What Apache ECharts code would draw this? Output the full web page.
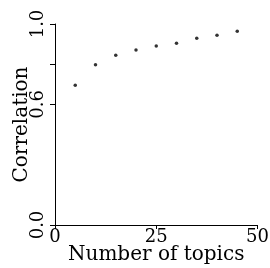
<!DOCTYPE html>
<html><head><meta charset="utf-8">
<script src="https://cdn.jsdelivr.net/npm/echarts@6/dist/echarts.min.js"></script>
<style>html,body{margin:0;padding:0;background:#fff}#c{width:270px;height:268px}</style>
</head><body><div id="c"></div>
<script>
const topics = [5, 10, 15, 20, 25, 30, 35, 40, 45];
const correlation = [0.695, 0.797, 0.844, 0.871, 0.891, 0.904, 0.929, 0.944, 0.964];
const xTicks = [0, 25, 50];
const yTicks = [0, 0.6, 0.8, 1.0];
const yLabels = [0, 0.6, 1.0];
const xName = 'Number of topics';
const yName = 'Correlation';

const font = 'DejaVu Serif';
const chart = echarts.init(document.getElementById('c'), null, {renderer: 'canvas'});
chart.setOption({
  animation: false,
  backgroundColor: '#fff',
  grid: {left: 55, right: 12.5, top: 24, bottom: 43, containLabel: false, outerBoundsMode: 'none'},
  xAxis: {
    type: 'value', min: 0, max: 50,
    name: xName, nameLocation: 'middle', nameGap: 20, nameMoveOverlap: false,
    nameTextStyle: {fontFamily: font, fontSize: 20, color: '#000'},
    axisLine: {show: true, onZero: false, lineStyle: {color: '#000', width: 1}},
    axisTick: {show: true, length: 4, customValues: xTicks, lineStyle: {color: '#000'}},
    axisLabel: {customValues: xTicks, margin: 3, fontFamily: font, fontSize: 18, color: '#000'},
    splitLine: {show: false}
  },
  yAxis: {
    type: 'value', min: 0, max: 1,
    name: yName, nameLocation: 'middle', nameGap: 23, nameMoveOverlap: false,
    nameTextStyle: {fontFamily: font, fontSize: 20, color: '#000'},
    axisLine: {show: true, onZero: false, lineStyle: {color: '#000', width: 1}},
    axisTick: {show: true, length: 5, customValues: yTicks, lineStyle: {color: '#000'}},
    axisLabel: {customValues: yLabels, rotate: 90, margin: 8, fontFamily: font, fontSize: 18, color: '#000',
      formatter: v => v.toFixed(1)},
    splitLine: {show: false}
  },
  series: [{
    type: 'scatter',
    data: topics.map((t, i) => [t, correlation[i]]),
    symbol: 'circle', symbolSize: 3.5,
    itemStyle: {color: '#000'}
  }]
});
</script></body></html>
